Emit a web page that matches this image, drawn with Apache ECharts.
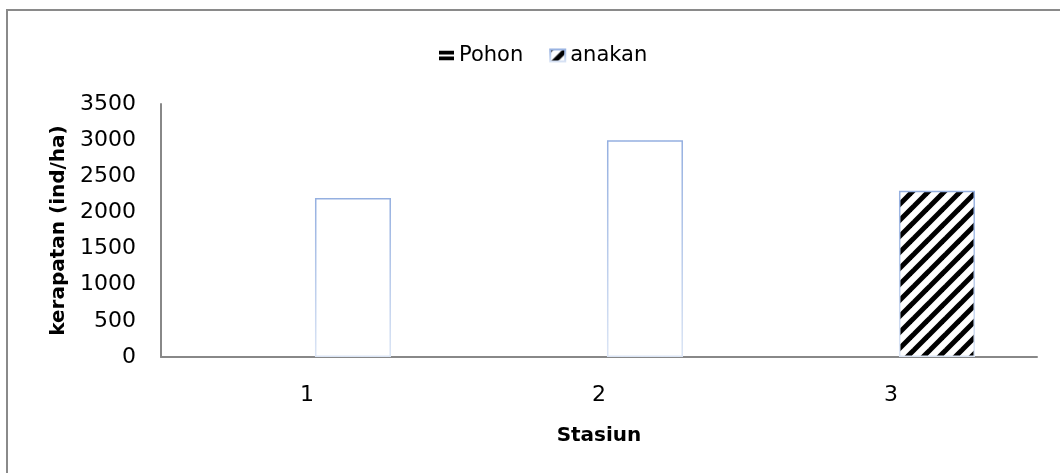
<!DOCTYPE html>
<html>
<head>
<meta charset="utf-8">
<script src="https://cdn.jsdelivr.net/npm/echarts@6/dist/echarts.min.js"></script>
<style>
html,body{margin:0;padding:0;background:#fff;}
#chart{width:1060px;height:473px;}
</style>
</head>
<body>
<div id="chart"></div>
<script>
const categories = ['1', '2', '3'];
const pohonValues = [0, 0, 0];
const anakanValues = [2200, 3000, 2300];
const seriesNames = ['Pohon', 'anakan'];
const yAxisTitle = 'kerapatan (ind/ha)';
const xAxisTitle = 'Stasiun';

function diagPattern() {
  const s = 16;
  const c = document.createElement('canvas');
  c.width = s; c.height = s;
  const g = c.getContext('2d');
  g.fillStyle = '#fff'; g.fillRect(0, 0, s, s);
  g.strokeStyle = '#000'; g.lineWidth = 5; g.lineCap = 'square';
  for (let k = -1; k <= 2; k++) {
    g.beginPath();
    g.moveTo(k * s - s, 2 * s);
    g.lineTo(k * s + s, 0);
    g.stroke();
  }
  return c;
}

const blueBorder = {
  type: 'linear', x: 0, y: 0, x2: 0, y2: 1,
  colorStops: [{offset: 0, color: '#94afe0'}, {offset: 1, color: '#dbe5f5'}]
};
const diag = {image: diagPattern(), repeat: 'repeat'};

const anakanData = anakanValues.map((v, i) => ({
  value: v,
  itemStyle: i === 2 ? {color: diag} : {color: '#ffffff'}
}));

const chart = echarts.init(document.getElementById('chart'), null, {renderer: 'canvas'});
const font = 'DejaVu Sans';
chart.setOption({
  animation: false,
  backgroundColor: '#fff',
  textStyle: {fontFamily: font},
  legend: {
    left: 434, top: 40,
    itemWidth: 15, itemHeight: 12, itemGap: 26,
    textStyle: {fontFamily: font, fontSize: 21, color: '#000'},
    data: [
      {name: seriesNames[0], icon: 'path://M0,0H16V4H0Z M0,6H16V10H0Z', itemStyle: {color: '#000', borderWidth: 0}},
      {name: seriesNames[1], icon: 'rect'}
    ]
  },
  grid: {left: 161, right: 23, top: 104, bottom: 116, containLabel: false},
  xAxis: {
    type: 'category', data: categories,
    axisLine: {show: true, lineStyle: {color: '#888', width: 2}},
    axisTick: {show: false},
    axisLabel: {margin: 27, fontSize: 22, color: '#000', fontFamily: font},
    name: xAxisTitle, nameLocation: 'middle', nameGap: 69,
    nameTextStyle: {fontSize: 20, fontWeight: 'bold', color: '#000', fontFamily: font}
  },
  yAxis: {
    type: 'value', min: 0, max: 3500, interval: 500,
    axisLine: {show: true, lineStyle: {color: '#888', width: 2}},
    axisTick: {show: false},
    splitLine: {show: false},
    axisLabel: {margin: 25, fontSize: 22, color: '#000', fontFamily: font,
      formatter: v => String(v)},
    name: yAxisTitle, nameLocation: 'middle', nameGap: 89, nameRotate: 90,
    nameTextStyle: {fontSize: 20, fontWeight: 'bold', color: '#000', fontFamily: font}
  },
  series: [
    {
      name: seriesNames[0], type: 'bar', data: pohonValues,
      barWidth: 76, barGap: '21%',
      itemStyle: {color: '#000', borderWidth: 0}
    },
    {
      name: seriesNames[1], type: 'bar', data: anakanData,
      barWidth: 76,
      itemStyle: {color: diag, borderColor: blueBorder, borderWidth: 1.5}
    }
  ],
  graphic: [
    {type: 'polyline', shape: {points: [[7, 473], [7, 10], [1060, 10]]},
     style: {stroke: '#8a8a8a', lineWidth: 2, fill: null}, silent: true}
  ]
});
</script>
</body>
</html>
